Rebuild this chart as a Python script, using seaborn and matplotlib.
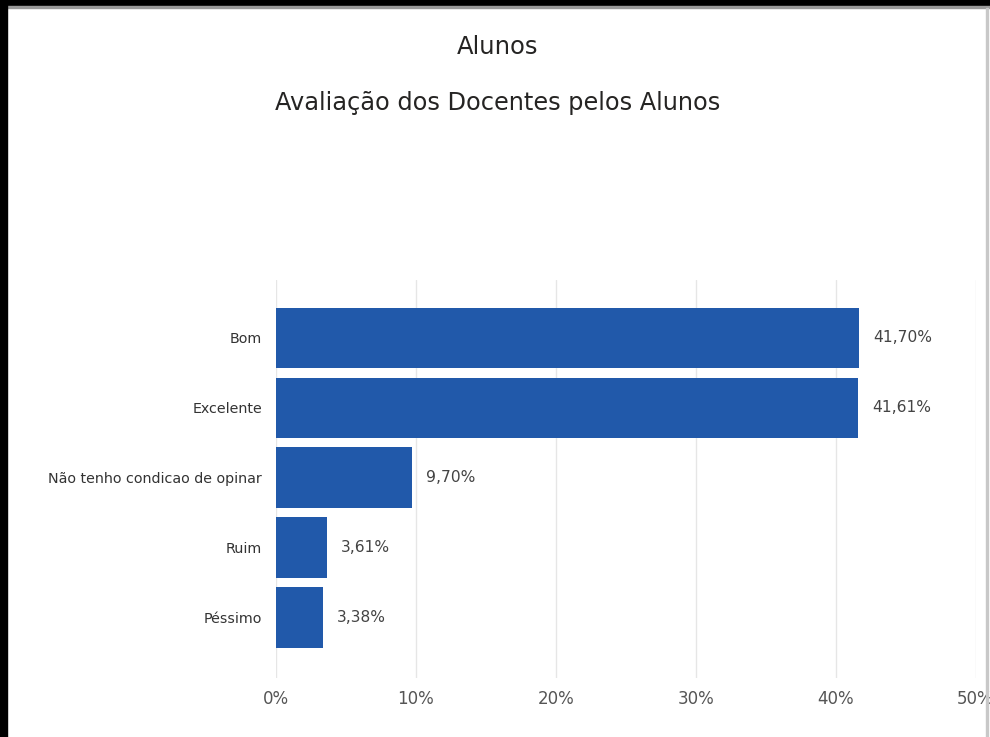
import matplotlib
matplotlib.use("Agg")
import matplotlib.pyplot as plt
from matplotlib.patches import Rectangle
import seaborn as sns
import pandas as pd

categories = ["Bom", "Excelente", "Não tenho condicao de opinar", "Ruim", "Péssimo"]
percentages = [41.70, 41.61, 9.70, 3.61, 3.38]
value_labels = ["41,70%", "41,61%", "9,70%", "3,61%", "3,38%"]
x_ticks = [0, 10, 20, 30, 40, 50]
x_tick_labels = ["0%", "10%", "20%", "30%", "40%", "50%"]

df = pd.DataFrame({"categoria": categories, "pct": percentages})

sns.set_style("white")
plt.rcParams["font.family"] = ["DejaVu Sans"]

fig = plt.figure(figsize=(9.9, 7.37), dpi=100)
ax = fig.add_axes([0.2788, 0.0801, 0.7066, 0.540])

sns.barplot(data=df, x="pct", y="categoria", color="#2159AA", saturation=1,
            width=0.866, linewidth=0, ax=ax)

ax.set_xlim(0, 50)
ax.set_ylim(4.866, -0.83)
ax.set_xticks(x_ticks)
ax.set_xticklabels(x_tick_labels, fontsize=12, color="#555555")
ax.tick_params(axis="x", length=0, pad=9)
ax.tick_params(axis="y", length=0, pad=10, labelsize=10.3, labelcolor="#333333")
ax.set_xlabel("")
ax.set_ylabel("")
ax.xaxis.grid(True, color="#e6e6e6", linewidth=1)
ax.set_axisbelow(True)
for s in ax.spines.values():
    s.set_visible(False)

ax.bar_label(ax.containers[0], labels=value_labels, padding=10,
             fontsize=11.2, color="#444444")

# titulos
fig.text(0.503, 1 - 47 / 737, "Alunos", ha="center", va="center",
         fontsize=17.5, color="#252423")
fig.text(0.503, 1 - 103 / 737, "Avaliação dos Docentes pelos Alunos",
         ha="center", va="center", fontsize=17.3, color="#252423")

# moldura do print
fig.patches.append(Rectangle((0, 1 - 6 / 737), 1, 6 / 737,
                             transform=fig.transFigure, color="black"))
fig.patches.append(Rectangle((0, 1 - 8 / 737), 1, 1.5 / 737,
                             transform=fig.transFigure, color="#9a9a9a"))
fig.patches.append(Rectangle((0, 0), 7 / 990, 1,
                             transform=fig.transFigure, color="black"))
fig.patches.append(Rectangle((986 / 990, 0), 1.5 / 990, 1 - 8 / 737,
                             transform=fig.transFigure, color="#c8c8c8"))

fig.savefig("out.png", dpi=100)
